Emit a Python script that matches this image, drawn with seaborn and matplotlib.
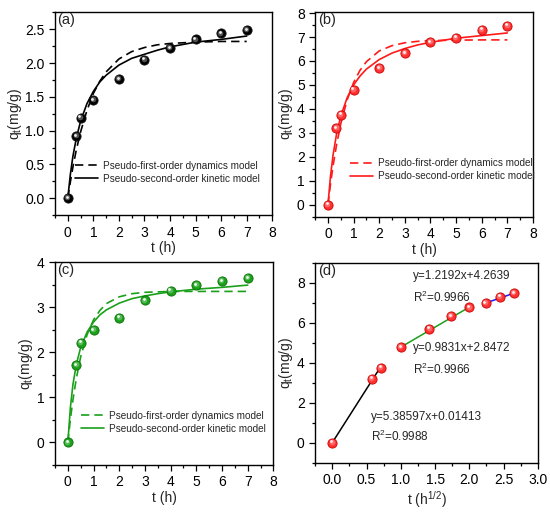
import numpy as np
import pandas as pd
import seaborn as sns
import matplotlib
matplotlib.use('Agg')
import matplotlib.pyplot as plt
from matplotlib.ticker import MultipleLocator, FormatStrFormatter
from matplotlib.transforms import offset_copy

# experimental data (same time points for all three samples)
t_exp = [0, 0.33, 0.5, 1, 2, 3, 4, 5, 6, 7]
q_a = [0, 0.92, 1.19, 1.45, 1.76, 2.05, 2.22, 2.35, 2.44, 2.49]
q_b = [0, 3.20, 3.76, 4.80, 5.70, 6.33, 6.78, 6.97, 7.30, 7.47]
q_c = [0, 1.71, 2.21, 2.49, 2.77, 3.15, 3.37, 3.49, 3.58, 3.65]

# fitted curves, values
t_fit = [0, 0.1, 0.2, 0.33, 0.5, 0.75, 1, 1.25, 1.5, 2, 2.5, 3, 3.5, 4, 5, 6, 7]
pfo_a = [0, 0.24, 0.46, 0.71, 0.98, 1.30, 1.55, 1.73, 1.87, 2.06, 2.17, 2.23, 2.27, 2.29, 2.31, 2.32, 2.32]
pso_a = [0, 0.35, 0.62, 0.88, 1.14, 1.40, 1.58, 1.72, 1.82, 1.97, 2.07, 2.13, 2.19, 2.24, 2.31, 2.35, 2.40]
pfo_b = [0, 0.87, 1.63, 2.47, 3.38, 4.38, 5.10, 5.61, 5.97, 6.42, 6.64, 6.76, 6.82, 6.85, 6.87, 6.88, 6.88]
pso_b = [0, 1.20, 2.08, 2.92, 3.70, 4.47, 5.00, 5.37, 5.66, 6.06, 6.33, 6.52, 6.67, 6.78, 6.95, 7.06, 7.17]
pfo_c = [0, 0.52, 0.95, 1.42, 1.90, 2.39, 2.72, 2.93, 3.08, 3.23, 3.30, 3.33, 3.34, 3.35, 3.35, 3.35, 3.35]
pso_c = [0, 0.78, 1.29, 1.73, 2.11, 2.45, 2.67, 2.83, 2.94, 3.09, 3.19, 3.25, 3.30, 3.34, 3.40, 3.44, 3.49]

# intraparticle diffusion (panel d)
sqrt_t = [0, 0.577, 0.707, 1.0, 1.414, 1.732, 2.0, 2.236, 2.449, 2.646]
q_d = [0, 3.20, 3.76, 4.78, 5.70, 6.32, 6.76, 6.97, 7.30, 7.47]
seg1_x = [0, 0.71]
seg1_y = [0.01, 3.82]
seg2_x = [1.0, 2.0]
seg2_y = [4.78, 6.78]
seg3_x = [2.236, 2.646]
seg3_y = [6.98, 7.47]
eq_text = ['y=1.2192x+4.2639', 'R$^2$=0.9966', 'y=0.9831x+2.8472', 'R$^2$=0.9966',
           'y=5.38597x+0.01413', 'R$^2$=0.9988']
eq_pos = [(1.18, 8.35), (1.18, 7.26), (1.18, 4.74), (1.18, 3.67), (0.57, 1.31), (0.57, 0.31)]

sns.set_style('ticks')
plt.rcParams['font.family'] = ['Liberation Sans', 'DejaVu Sans']
plt.rcParams['mathtext.fontset'] = 'custom'
plt.rcParams['mathtext.rm'] = 'Liberation Sans'
plt.rcParams['mathtext.it'] = 'Liberation Sans'

fig = plt.figure(figsize=(5.5, 5.16), dpi=100)
ax_a = fig.add_axes([0.100, 0.583, 0.395, 0.393])
ax_b = fig.add_axes([0.573, 0.580, 0.396, 0.397])
ax_c = fig.add_axes([0.100, 0.099, 0.397, 0.393])
ax_d = fig.add_axes([0.573, 0.103, 0.405, 0.388])


def balls(ax, x, y, col, edge, light):
    # shaded "sphere" markers
    sns.scatterplot(x=x, y=y, ax=ax, s=44, color=col, edgecolor=edge, linewidth=0.6, zorder=5)
    tr = offset_copy(ax.transData, fig=fig, x=-0.5, y=0.6, units='points')
    ax.scatter(x, y, s=16, color=light, alpha=0.6, linewidths=0, zorder=6, transform=tr)
    tr2 = offset_copy(ax.transData, fig=fig, x=-0.8, y=1.0, units='points')
    ax.scatter(x, y, s=4, color='white', alpha=0.9, linewidths=0, zorder=7, transform=tr2)


def style(ax, label):
    for sp in ax.spines.values():
        sp.set_linewidth(1.0)
        sp.set_color('black')
    ax.tick_params(which='both', direction='out', labelsize=10, width=0.9, colors='black')
    ax.tick_params(which='major', length=4)
    ax.tick_params(which='minor', length=2)
    ax.text(0.012, 0.995, label, transform=ax.transAxes, va='top', ha='left', fontsize=10.5)
    ax.set_ylabel('q$_\\mathregular{t}$(mg/g)', fontsize=10, labelpad=1)


panels = [(ax_a, pfo_a, pso_a, q_a, 'black', '#111111', 'black', '#888888', '(a)', (0.06, 0.12)),
          (ax_b, pfo_b, pso_b, q_b, '#ff1a1a', '#cc0000', '#ff3030', '#ff9090', '(b)', (0.13, 0.14)),
          (ax_c, pfo_c, pso_c, q_c, '#1aa01a', '#0a700a', '#1aa01a', '#80d080', '(c)', (0.085, 0.12))]

for ax, pfo, pso, q, lc, edge, mc, light, lab, anc in panels:
    sns.lineplot(x=t_fit, y=pfo, ax=ax, color=lc, lw=1.2, linestyle=(0, (5, 3)),
                 label='Pseudo-first-order dynamics model')
    sns.lineplot(x=t_fit, y=pso, ax=ax, color=lc, lw=1.2, label='Pseudo-second-order kinetic model')
    balls(ax, t_exp, q, mc, edge, light)
    ax.legend(loc='lower left', bbox_to_anchor=anc, frameon=False, fontsize=7.2,
              handlelength=2.3, labelspacing=0.3, handletextpad=0.5, borderpad=0.2)
    ax.set_xlim(-0.5, 8)
    ax.xaxis.set_major_locator(MultipleLocator(1))
    ax.xaxis.set_minor_locator(MultipleLocator(0.5))
    ax.set_xlabel('t (h)', fontsize=10, labelpad=1)
    style(ax, lab)

ax_a.set_ylim(-0.25, 2.75)
ax_a.yaxis.set_major_locator(MultipleLocator(0.5))
ax_a.yaxis.set_minor_locator(MultipleLocator(0.25))
ax_a.yaxis.set_major_formatter(FormatStrFormatter('%.1f'))
ax_b.set_ylim(-0.5, 8.05)
ax_b.yaxis.set_major_locator(MultipleLocator(1))
ax_b.yaxis.set_minor_locator(MultipleLocator(0.5))
ax_c.set_ylim(-0.5, 4)
ax_c.yaxis.set_major_locator(MultipleLocator(1))
ax_c.yaxis.set_minor_locator(MultipleLocator(0.5))

# panel d
sns.lineplot(x=seg1_x, y=seg1_y, ax=ax_d, color='black', lw=1.1)
sns.lineplot(x=seg2_x, y=seg2_y, ax=ax_d, color='#1aa01a', lw=1.1)
sns.lineplot(x=seg3_x, y=seg3_y, ax=ax_d, color='#1a1aff', lw=1.1)
balls(ax_d, sqrt_t, q_d, '#ff3030', '#cc0000', '#ff9090')
for txt, (x, y) in zip(eq_text, eq_pos):
    ax_d.text(x, y, txt, fontsize=8.5, va='center', ha='left')
ax_d.set_xlim(-0.25, 3.0)
ax_d.set_ylim(-1, 9)
ax_d.xaxis.set_major_locator(MultipleLocator(0.5))
ax_d.xaxis.set_minor_locator(MultipleLocator(0.25))
ax_d.xaxis.set_major_formatter(FormatStrFormatter('%.1f'))
ax_d.yaxis.set_major_locator(MultipleLocator(2))
ax_d.yaxis.set_minor_locator(MultipleLocator(1))
ax_d.set_xlabel('t (h$^{1/2}$)', fontsize=10, labelpad=1)
style(ax_d, '(d)')

fig.savefig('out.png', dpi=100)
